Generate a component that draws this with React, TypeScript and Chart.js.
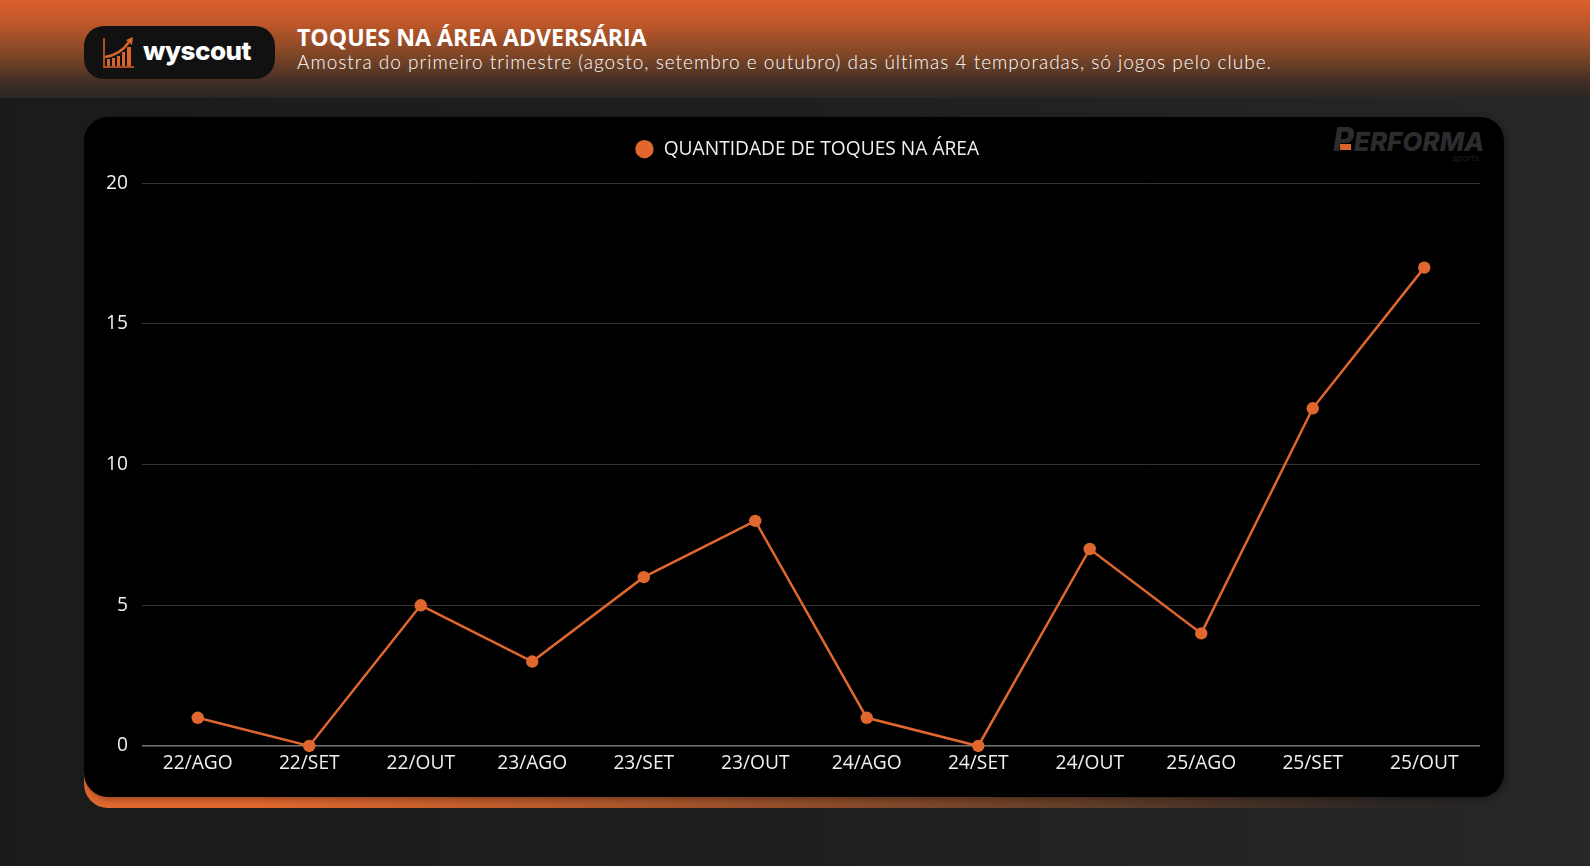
import React, { useEffect, useRef } from "react";
import { Chart, registerables } from "chart.js";

Chart.register(...registerables);

const categories = ["22/AGO","22/SET","22/OUT","23/AGO","23/SET","23/OUT","24/AGO","24/SET","24/OUT","25/AGO","25/SET","25/OUT"];
const touches = [1,0,5,3,6,8,1,0,7,4,12,17];
const seriesName = "QUANTIDADE DE TOQUES NA ÁREA";
const title = "TOQUES NA ÁREA ADVERSÁRIA";
const subtitle = "Amostra do primeiro trimestre (agosto, setembro e outubro) das últimas 4 temporadas, só jogos pelo clube.";
const ORANGE = "#e0672e";
const FONT = "'Open Sans', sans-serif";

const legendShift = {
  id: "legendShift",
  afterLayout(chart: any) {
    const dx = 807 - 84 - (chart.legend.left + chart.legend.right) / 2;
    chart.legend.left += dx;
    chart.legend.right += dx;
    chart.legend.top -= 14.5;
    chart.legend.bottom -= 14.5;
  },
};

export default function App() {
  const ref = useRef<HTMLCanvasElement>(null);
  useEffect(() => {
    document.body.style.margin = "0";
    const chart = new Chart(ref.current!, {
      type: "line",
      plugins: [legendShift],
      data: {
        labels: categories,
        datasets: [{
          label: seriesName,
          data: touches,
          borderColor: ORANGE,
          backgroundColor: ORANGE,
          borderWidth: 2.5,
          pointRadius: 6.2,
          pointBackgroundColor: ORANGE,
          pointBorderColor: ORANGE,
          pointBorderWidth: 0,
          tension: 0,
          clip: false,
        }],
      },
      options: {
        animation: false,
        responsive: false,
        layout: { padding: { left: 14, right: 24, top: 23, bottom: 34 } },
        plugins: {
          tooltip: { enabled: false },
          legend: {
            display: true,
            position: "top",
            labels: { color: "#f0f0f0", font: { family: FONT, size: 19.2 }, usePointStyle: true, pointStyle: "circle", boxHeight: 13, padding: 24 },
          },
        },
        scales: {
          x: {
            offset: true,
            grid: { display: false },
            border: { display: false },
            ticks: { color: "#f0f0f0", font: { family: FONT, size: 19.2 }, maxRotation: 0, autoSkip: false, padding: -2 },
          },
          y: {
            min: 0,
            max: 20,
            afterFit: (s: any) => { s.width = 44; },
            grid: {
              color: (c: any) => (c.tick && c.tick.value === 0 ? "#777777" : "#333333"),
              lineWidth: (c: any) => (c.tick && c.tick.value === 0 ? 1.5 : 1),
              drawTicks: false,
            },
            border: { display: false },
            ticks: { stepSize: 5, color: "#f0f0f0", font: { family: FONT, size: 19.2 }, padding: 14 },
          },
        },
      },
    } as any);
    return () => chart.destroy();
  }, []);

  return (
    <div style={{ position: "fixed", left: 0, top: 0, width: 1590, height: 866, overflow: "hidden", background: "linear-gradient(90deg,#1b1b1b 0%,#1f1f1f 50%,#272727 100%)" }}>
      <div style={{ position: "absolute", left: 0, top: 0, width: 1590, height: 98, background: "linear-gradient(180deg,#db5f2b 0%,#bd5729 25%,#7a4527 58%,#3f2e25 85%,#2a2725 100%)" }} />
      <div style={{ position: "absolute", left: 84, top: 26, width: 191, height: 53, borderRadius: 20, background: "#111111" }}>
        <svg width="34" height="32" style={{ position: "absolute", left: 18, top: 11 }} viewBox="0 0 34 32">
          <path d="M2 1V30H32" fill="none" stroke="#d9652d" strokeWidth="1.5" />
          <path d="M3 20Q18 18 27 5" fill="none" stroke="#d9652d" strokeWidth="2.5" />
          <path d="M31 0L24 3L30 8Z" fill="#d9652d" />
          <path d="M5 22h3v7H5zM10 21h3v8h-3zM15 19h3v10h-3zM20 15h3v14h-3zM25 10h4v19h-4z" fill="#d9652d" />
        </svg>
        <div style={{ position: "absolute", left: 59, top: 7, color: "#fff", fontFamily: "Inter, sans-serif", fontWeight: 800, fontSize: 26, letterSpacing: -0.5, lineHeight: "36px" }}>wyscout</div>
      </div>
      <div style={{ position: "absolute", left: 297, top: 21, color: "#fff", fontFamily: FONT, fontWeight: 700, fontSize: 23.1, lineHeight: "32px", whiteSpace: "nowrap" }}>{title}</div>
      <div style={{ position: "absolute", left: 297, top: 49, color: "#fff", fontFamily: "Lato, sans-serif", fontWeight: 300, fontSize: 19, letterSpacing: 1.0, lineHeight: "26px", whiteSpace: "nowrap" }}>{subtitle}</div>

      <div style={{ position: "absolute", left: 84, top: 600, width: 1420, height: 208, borderRadius: 24, background: "linear-gradient(90deg,#e0672e 0%,#e0672e 12%,#a8552b 40%,#5e3c28 72%,rgba(60,45,38,0.3) 92%,rgba(40,40,40,0) 100%)" }} />
      <div style={{ position: "absolute", left: 84, top: 117, width: 1420, height: 680, borderRadius: 24, background: "#000", boxShadow: "2px 2px 6px rgba(0,0,0,0.35)" }} />
      <div style={{ position: "absolute", left: 1333, top: 121, color: "#2c2c2e", fontFamily: "Inter, sans-serif", fontStyle: "italic", fontWeight: 800, fontSize: 26, lineHeight: "38px", whiteSpace: "nowrap" }}><span style={{ fontSize: 32 }}>P</span>ERFORMA</div>
      <div style={{ position: "absolute", left: 1452, top: 152, color: "#1d1d1d", fontFamily: "Inter, sans-serif", fontSize: 9, lineHeight: "12px" }}>sports</div>
      <div style={{ position: "absolute", left: 1340, top: 144, width: 11, height: 6, background: "#d9652d" }} />
      <canvas ref={ref} width={1420} height={700} style={{ position: "absolute", left: 84, top: 107, display: "block" }} />
    </div>
  );
}
